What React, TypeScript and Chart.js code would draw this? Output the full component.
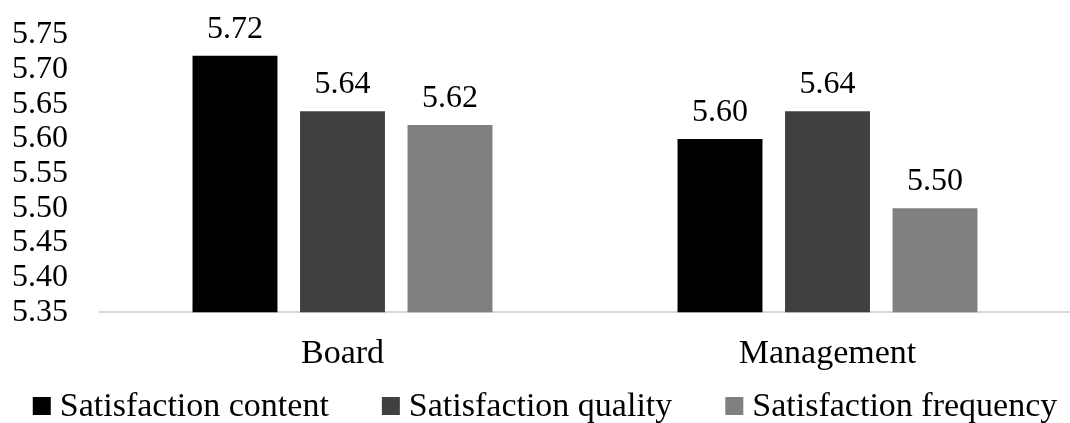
import React, { useEffect, useRef } from "react";
import { Chart, registerables } from "chart.js";

Chart.register(...registerables);

const categories = ["Board", "Management"];
const seriesNames = ["Satisfaction content", "Satisfaction quality", "Satisfaction frequency"];
const contentValues = [5.72, 5.6];
const qualityValues = [5.64, 5.64];
const frequencyValues = [5.62, 5.5];
const seriesColors = ["#000000", "#404040", "#808080"];
const yTicks = [5.35, 5.4, 5.45, 5.5, 5.55, 5.6, 5.65, 5.7, 5.75];

const FONT = "'Liberation Serif', 'Times New Roman', serif";

// Writes each bar's value above it
const valueLabels = {
  id: "valueLabels",
  afterDatasetsDraw(chart: any) {
    const ctx = chart.ctx;
    ctx.save();
    ctx.font = `32px ${FONT}`;
    ctx.fillStyle = "#000000";
    ctx.textAlign = "center";
    ctx.textBaseline = "alphabetic";
    chart.data.datasets.forEach((ds: any, i: number) => {
      const meta = chart.getDatasetMeta(i);
      meta.data.forEach((bar: any, j: number) => {
        const v = ds.data[j] as number;
        ctx.fillText(v.toFixed(2), bar.x, bar.y - 18);
      });
    });
    ctx.restore();
  },
};

// Single-row legend along the bottom edge: square swatch followed by the series name
const bottomLegend = {
  id: "bottomLegend",
  afterDraw(chart: any) {
    const ctx = chart.ctx;
    const box = 18;
    const textGap = 9;
    const itemGap = 53;
    const baseline = 416;
    ctx.save();
    ctx.font = `34px ${FONT}`;
    ctx.textBaseline = "alphabetic";
    ctx.textAlign = "left";
    const widths = seriesNames.map((n) => ctx.measureText(n).width);
    const total =
      widths.reduce((a, w) => a + box + textGap + w, 0) + itemGap * (seriesNames.length - 1);
    let x = (chart.width - total) / 2 + 10;
    seriesNames.forEach((name, i) => {
      ctx.fillStyle = seriesColors[i];
      ctx.fillRect(x, baseline - box - 1, box, box);
      ctx.fillStyle = "#000000";
      ctx.fillText(name, x + box + textGap, baseline);
      x += box + textGap + widths[i] + itemGap;
    });
    ctx.restore();
  },
};

export default function App() {
  const ref = useRef<HTMLCanvasElement | null>(null);

  useEffect(() => {
    if (!ref.current) return;
    const chart = new Chart(ref.current, {
      type: "bar",
      data: {
        labels: categories,
        datasets: [contentValues, qualityValues, frequencyValues].map((data, i) => ({
          label: seriesNames[i],
          data,
          backgroundColor: seriesColors[i],
          borderWidth: 0,
          categoryPercentage: 0.665,
          barPercentage: 0.79,
        })),
      },
      plugins: [valueLabels, bottomLegend],
      options: {
        responsive: false,
        animation: false,
        layout: { padding: { left: 12, right: 0, top: 35, bottom: 36 } },
        scales: {
          x: {
            grid: { display: false },
            border: { display: true, color: "#d9d9d9", width: 2 },
            ticks: { color: "#000000", font: { family: FONT, size: 34 }, padding: 13 },
          },
          y: {
            min: 5.35,
            max: 5.75,
            grid: { display: false, drawTicks: false },
            border: { display: false },
            afterBuildTicks: (scale: any) => {
              scale.ticks = yTicks.map((v) => ({ value: v }));
            },
            afterFit: (scale: any) => {
              scale.width = 88;
            },
            ticks: {
              autoSkip: false,
              color: "#000000",
              padding: 0,
              crossAlign: "far",
              font: { family: FONT, size: 32 },
              callback: (v: any) => Number(v).toFixed(2),
            },
          },
        },
        plugins: {
          legend: { display: false },
          tooltip: { enabled: false },
        },
      },
    });
    return () => chart.destroy();
  }, []);

  return (
    <div style={{ position: "fixed", left: 0, top: 0, width: 1070, height: 423, background: "#ffffff" }}>
      <canvas ref={ref} width={1070} height={423} />
    </div>
  );
}
